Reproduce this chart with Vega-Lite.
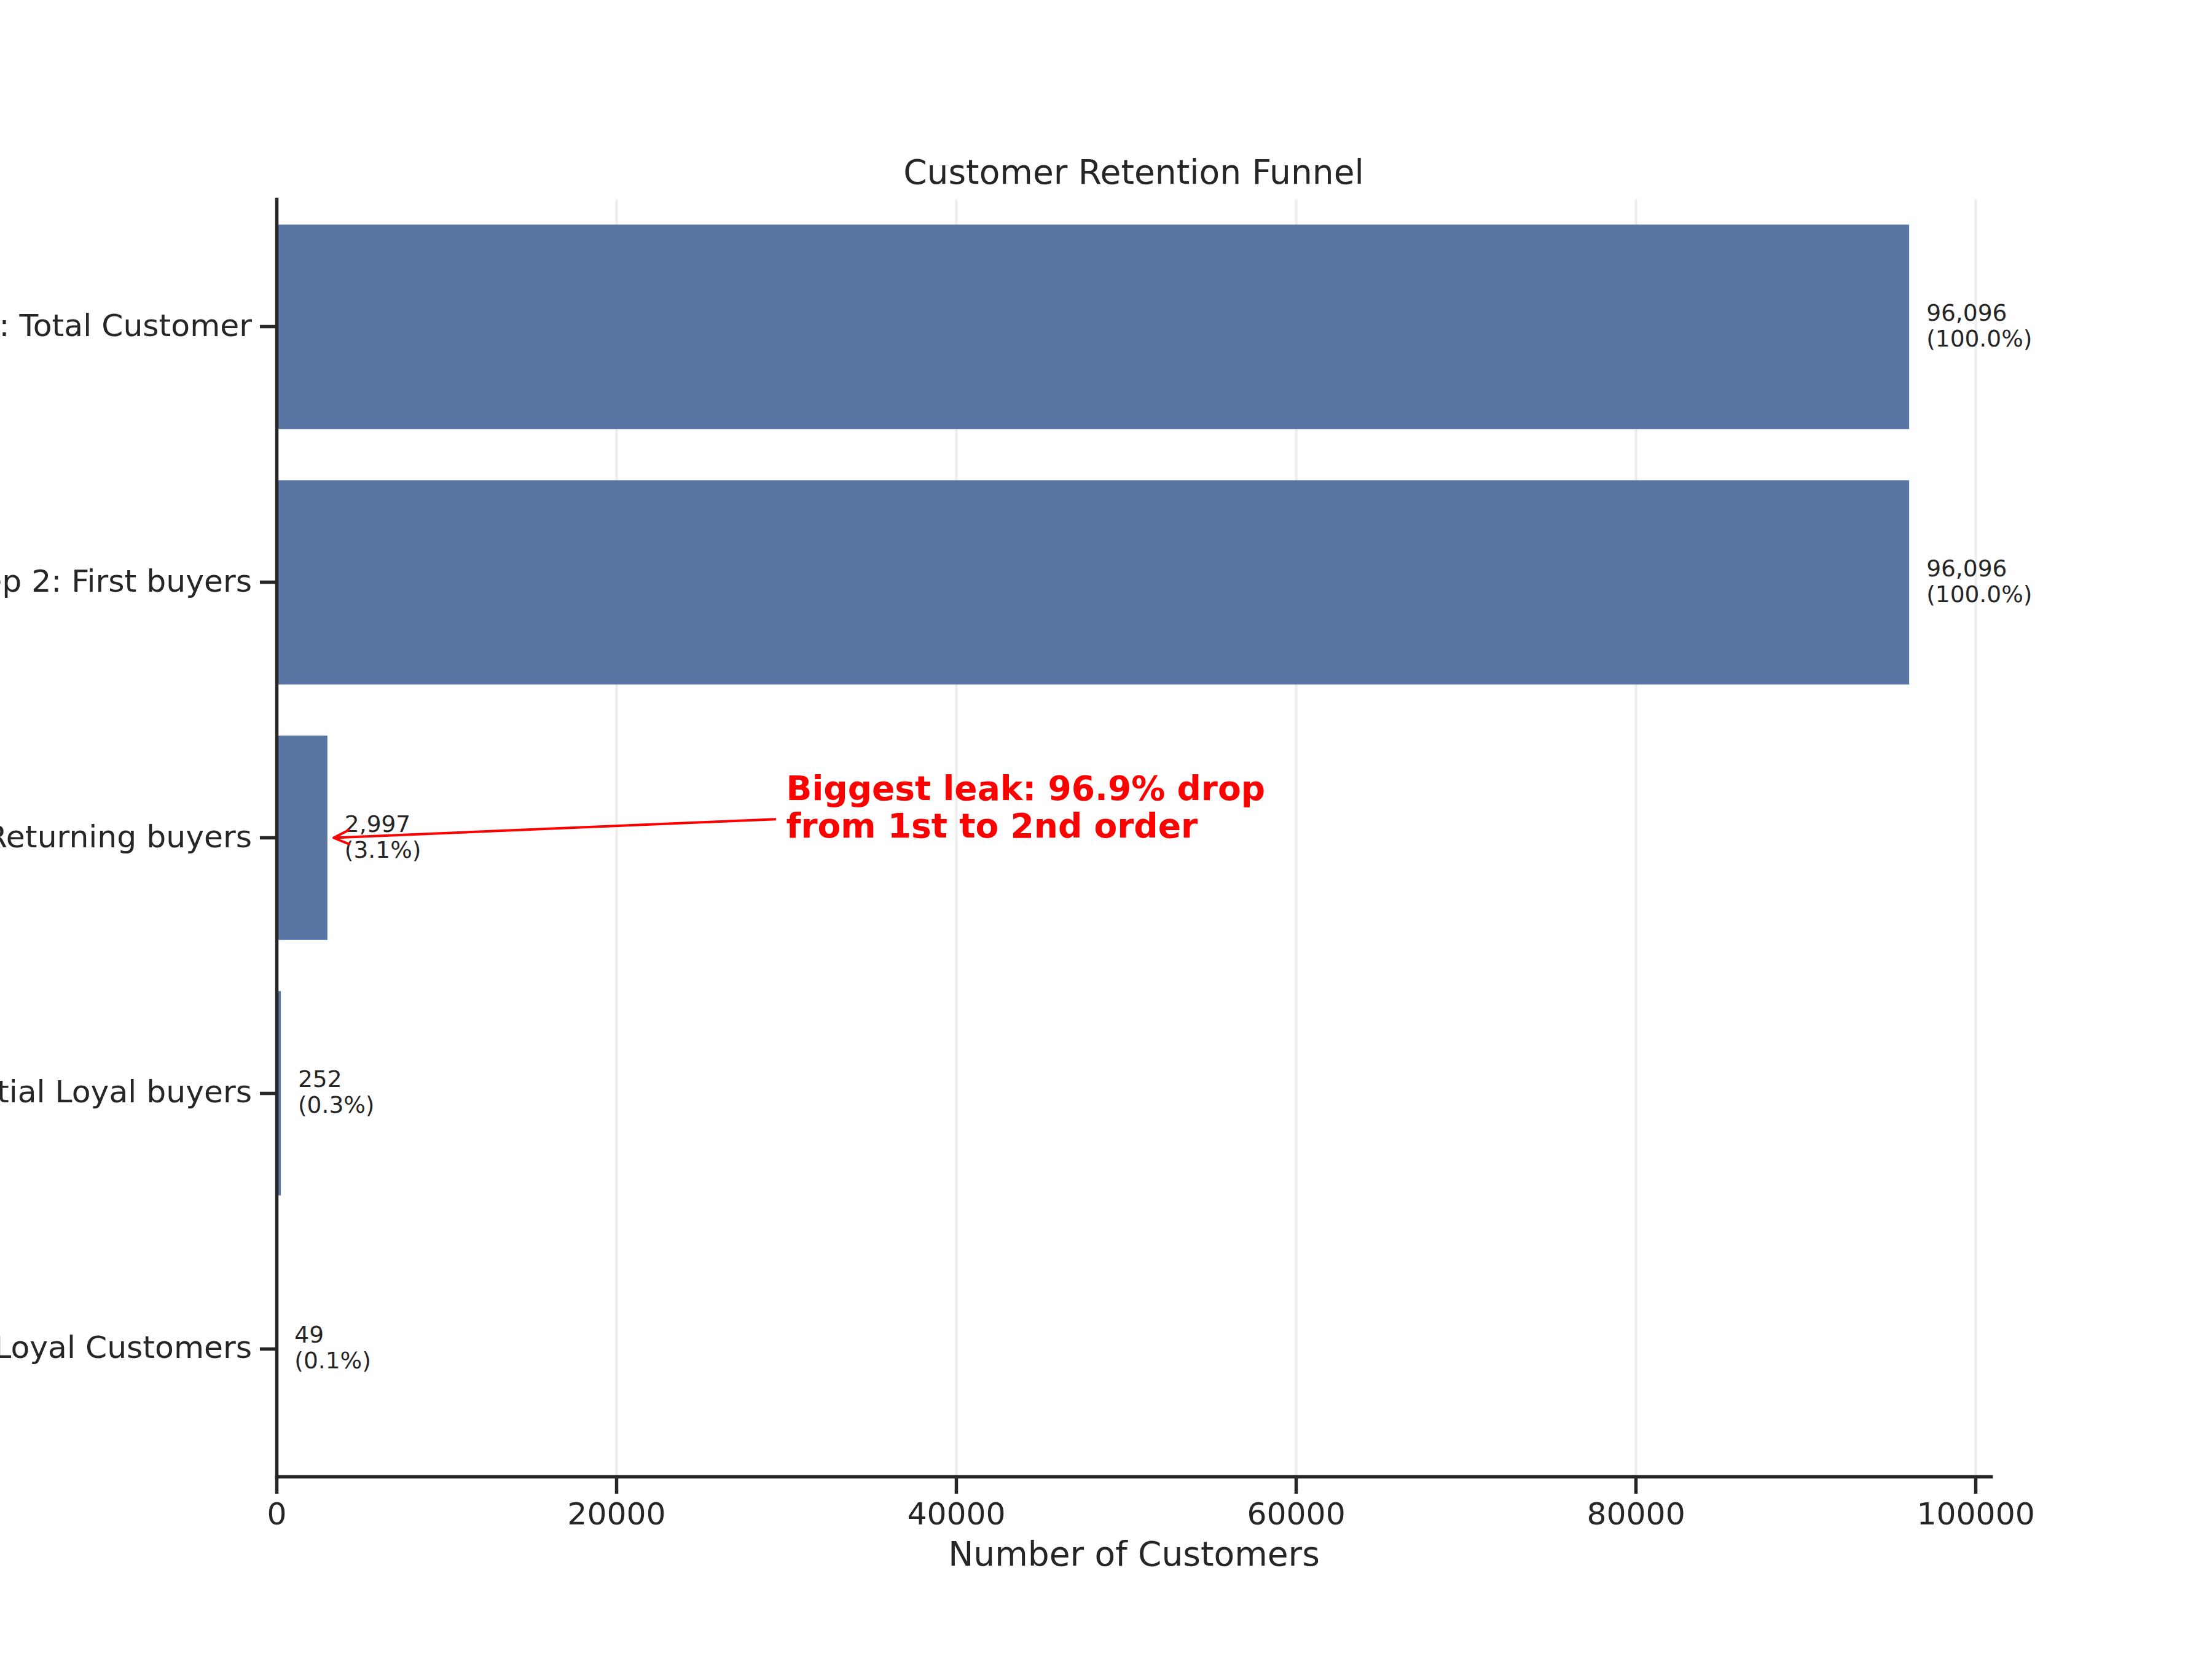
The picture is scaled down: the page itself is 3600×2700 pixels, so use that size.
{
  "$schema": "https://vega.github.io/schema/vega-lite/v6.json",
  "width": 2790,
  "height": 2079,
  "autosize": {"type": "none"},
  "padding": {"left": 450, "top": 324, "right": 360, "bottom": 297},
  "background": "white",
  "config": {
    "view": {"stroke": null},
    "font": "DejaVu Sans"
  },
  "title": {
    "text": "Customer Retention Funnel",
    "font": "DejaVu Sans",
    "fontSize": 55,
    "fontWeight": "normal",
    "color": "#262626",
    "anchor": "middle",
    "frame": "group",
    "baseline": "alphabetic",
    "offset": -30
  },
  "datasets": {
    "funnel": [
      {"step": "Step 1: Total Customer", "customers": 96096, "label": "96,096\n(100.0%)"},
      {"step": "Step 2: First buyers", "customers": 96096, "label": "96,096\n(100.0%)"},
      {"step": "Step 3: Returning buyers", "customers": 2997, "label": "2,997\n(3.1%)"},
      {"step": "Step 4: Potential Loyal buyers", "customers": 252, "label": "252\n(0.3%)"},
      {"step": "Step 5: Loyal Customers", "customers": 49, "label": "49\n(0.1%)"}
    ],
    "arrow": [{"x": 29400, "y": 1.927, "x2": 3363, "y2": 2.0}],
    "arrowTip": [{"x": 3363, "y": 2.0}],
    "note": [{"x": 30000, "y": 1.852, "text": "Biggest leak: 96.9% drop\nfrom 1st to 2nd order"}]
  },
  "layer": [
    {
      "data": {"name": "funnel"},
      "encoding": {
        "y": {
          "field": "step",
          "type": "nominal",
          "sort": null,
          "scale": {"paddingInner": 0.2, "paddingOuter": 0.1},
          "axis": {
            "title": null,
            "labelFont": "DejaVu Sans",
            "labelFontSize": 50.4,
            "labelColor": "#262626",
            "labelPadding": 13,
            "labelLimit": 3000,
            "tickSize": 27.5,
            "tickWidth": 5.5,
            "tickColor": "#262626",
            "domainColor": "#262626",
            "domainWidth": 5.5,
            "domainCap": "square",
            "grid": false,
            "zindex": 1
          }
        },
        "x": {
          "field": "customers",
          "type": "quantitative",
          "scale": {"domain": [0, 100900.8], "nice": false, "zero": true},
          "axis": {
            "title": "Number of Customers",
            "values": [0, 20000, 40000, 60000, 80000, 100000],
            "format": "d",
            "labelFont": "DejaVu Sans",
            "labelFontSize": 50.4,
            "labelColor": "#262626",
            "labelPadding": 10,
            "labelLimit": 1000,
            "labelFlush": false,
            "labelOverlap": false,
            "tickSize": 27.5,
            "tickWidth": 5.5,
            "tickColor": "#262626",
            "domainColor": "#262626",
            "domainWidth": 5.5,
            "domainCap": "square",
            "grid": true,
            "gridColor": "#ededed",
            "gridWidth": 4,
            "titleFont": "DejaVu Sans",
            "titleFontSize": 55,
            "titleFontWeight": "normal",
            "titleColor": "#262626",
            "titlePadding": 14,
            "zindex": 0
          }
        }
      },
      "layer": [
        {"mark": {"type": "bar", "color": "#5975a4"}},
        {
          "mark": {
            "type": "text",
            "align": "left",
            "baseline": "middle",
            "dx": 28,
            "dy": -21,
            "lineBreak": "\n",
            "font": "DejaVu Sans",
            "fontSize": 37.5,
            "lineHeight": 42,
            "color": "#262626"
          },
          "encoding": {"text": {"field": "label", "type": "nominal"}}
        }
      ]
    },
    {
      "data": {"name": "arrow"},
      "mark": {"type": "rule", "color": "red", "strokeWidth": 4},
      "encoding": {
        "x": {"field": "x", "type": "quantitative", "scale": {"domain": [0, 100900.8], "nice": false}},
        "x2": {"field": "x2"},
        "y": {"field": "y", "type": "quantitative", "scale": {"domain": [-0.5, 4.5], "reverse": true, "nice": false, "zero": false}, "axis": null},
        "y2": {"field": "y2"}
      }
    },
    {
      "data": {"name": "arrowTip"},
      "mark": {
        "type": "point",
        "shape": "M2,-0.92L0,0L2,0.92",
        "size": 625,
        "filled": false,
        "stroke": "red",
        "strokeWidth": 4,
        "strokeCap": "round",
        "strokeJoin": "round",
        "opacity": 1,
        "angle": 357.6
      },
      "encoding": {
        "x": {"field": "x", "type": "quantitative", "scale": {"domain": [0, 100900.8], "nice": false}},
        "y": {"field": "y", "type": "quantitative", "scale": {"domain": [-0.5, 4.5], "reverse": true, "nice": false, "zero": false}, "axis": null}
      }
    },
    {
      "data": {"name": "note"},
      "mark": {
        "type": "text",
        "align": "left",
        "baseline": "alphabetic",
        "lineBreak": "\n",
        "font": "DejaVu Sans",
        "fontSize": 55,
        "fontWeight": "bold",
        "lineHeight": 61,
        "color": "red"
      },
      "encoding": {
        "x": {"field": "x", "type": "quantitative", "scale": {"domain": [0, 100900.8], "nice": false}},
        "y": {"field": "y", "type": "quantitative", "scale": {"domain": [-0.5, 4.5], "reverse": true, "nice": false, "zero": false}, "axis": null},
        "text": {"field": "text", "type": "nominal"}
      }
    }
  ],
  "resolve": {"scale": {"y": "independent"}}
}
